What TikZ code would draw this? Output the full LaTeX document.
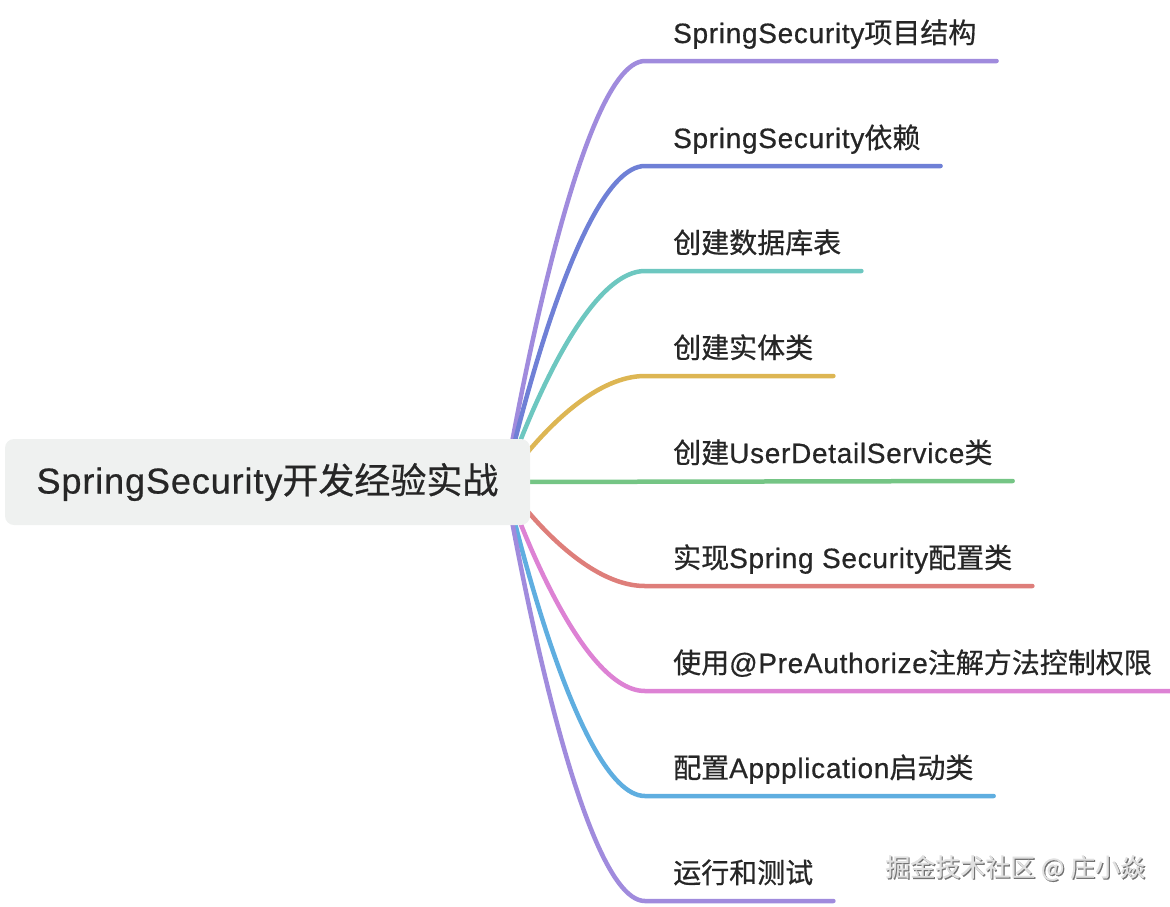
\documentclass[tikz,border=0pt]{standalone}
\usepackage{fontspec}
\setmainfont{Liberation Sans}[LetterSpace=2.5, FakeBold=0.6]
\newfontfamily\cjkfont{Noto Sans CJK SC}[FakeBold=0.6]
\newcommand\zh[1]{{\cjkfont #1}}
\usetikzlibrary{calc}
\definecolor{txtDark}{HTML}{262626}
\definecolor{rootFill}{HTML}{EFF1F0}
\definecolor{cPurple}{HTML}{A08BDD}
\definecolor{cIndigo}{HTML}{6F80D6}
\definecolor{cTeal}{HTML}{6DC7C0}
\definecolor{cGold}{HTML}{DDB653}
\definecolor{cGreen}{HTML}{75C585}
\definecolor{cRed}{HTML}{DE7E7A}
\definecolor{cPink}{HTML}{DD82D4}
\definecolor{cBlue}{HTML}{5FAEE0}

\begin{document}
\begin{tikzpicture}[x=1pt, y=-1pt,
  branch/.style={line width=4.5pt, line cap=round},
  leaf/.style={anchor=base west, inner sep=0pt, text=txtDark, font=\fontsize{28}{34}\selectfont},
  rootbox/.style={fill=rootFill, rounded corners=9pt, minimum width=525pt, minimum height=86pt,
    inner sep=0pt, text=txtDark, font=\fontsize{36}{42}\selectfont},
  wmark/.style={anchor=west, inner sep=0pt, font=\fontsize{25}{28}\selectfont\cjkfont}]
  \useasboundingbox (0,0) rectangle (1170,906);

  % topics
  \node[leaf] (t1) at (673,43)  {SpringSecurity\zh{项目结构}};
  \node[leaf] (t2) at (673,148) {SpringSecurity\zh{依赖}};
  \node[leaf] (t3) at (673,253) {\zh{创建数据库表}};
  \node[leaf] (t4) at (673,358) {\zh{创建实体类}};
  \node[leaf] (t5) at (673,463) {\zh{创建}UserDetailService\zh{类}};
  \node[leaf] (t6) at (673,568) {\zh{实现}Spring Security\zh{配置类}};
  \node[leaf] (t7) at (673,673) {\zh{使用}@PreAuthorize\zh{注解方法控制权限}};
  \node[leaf] (t8) at (673,778) {\zh{配置}Appplication\zh{启动类}};
  \node[leaf] (t9) at (673,883) {\zh{运行和测试}};

  \coordinate (hub) at (505,482);
  \foreach \i in {1,...,9} {
    \coordinate (s\i) at ($(t\i.base west)+(-28,18)$);
    \coordinate (e\i) at ($(t\i.base east)+(20,18)$);
  }

  \draw[branch, cPurple] (hub) .. controls (hub) and ($(s1 -| hub)!.5!(s1)$) .. (s1) -- (e1);
  \draw[branch, cIndigo] (hub) .. controls (hub) and ($(s2 -| hub)!.5!(s2)$) .. (s2) -- (e2);
  \draw[branch, cTeal]   (hub) .. controls (hub) and ($(s3 -| hub)!.5!(s3)$) .. (s3) -- (e3);
  \draw[branch, cGold]   (hub) .. controls (hub) and ($(s4 -| hub)!.5!(s4)$) .. (s4) -- (e4);
  \draw[branch, cGreen]  (hub) -- (e5);
  \draw[branch, cRed]    (hub) .. controls (hub) and ($(s6 -| hub)!.5!(s6)$) .. (s6) -- (e6);
  \draw[branch, cPink]   (hub) .. controls (hub) and ($(s7 -| hub)!.5!(s7)$) .. (s7) -- (e7);
  \draw[branch, cBlue]   (hub) .. controls (hub) and ($(s8 -| hub)!.5!(s8)$) .. (s8) -- (e8);
  \draw[branch, cPurple] (hub) .. controls (hub) and ($(s9 -| hub)!.5!(s9)$) .. (s9) -- (e9);

  % central topic
  \node[rootbox] (root) at (267.5,482) {SpringSecurity\zh{开发经验实战}};

  % watermark
  \node[wmark, text=black!55] at (886.2,869.2) {掘金技术社区 @ 庄小焱};
  \node[wmark, text=black!12] (wm) at (885,868) {掘金技术社区 @ 庄小焱};
\end{tikzpicture}
\end{document}
